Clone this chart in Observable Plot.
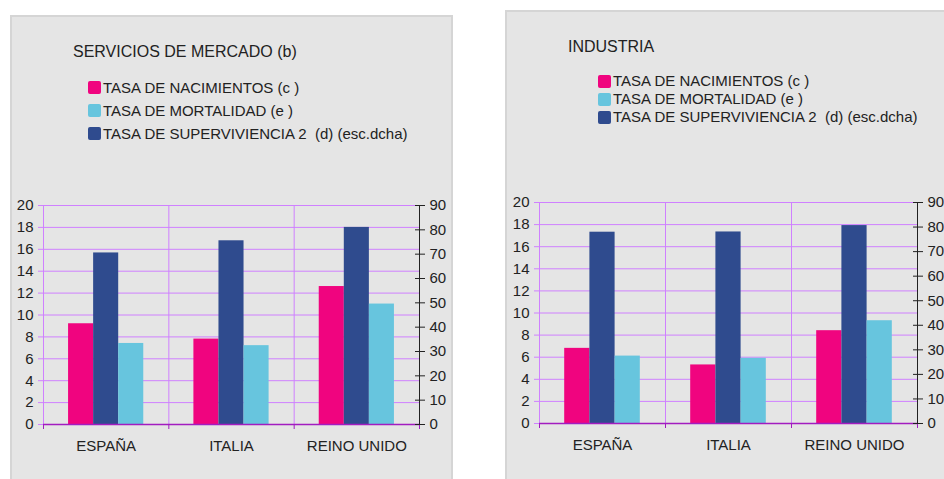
<!DOCTYPE html>
<html>
<head>
<meta charset="utf-8">
<script src="https://cdn.jsdelivr.net/npm/d3@7"></script>
<script src="https://cdn.jsdelivr.net/npm/@observablehq/plot@0.6"></script>
<style>
  html, body { margin: 0; padding: 0; background: #fff; width: 944px; height: 479px; overflow: hidden; position: relative; }
  body { font-family: "Liberation Sans", Arial, sans-serif; color: #222; }
  .panel { position: absolute; background: #e5e5e5; border: 2px solid #d5d5d5; box-sizing: border-box; }
  .title { position: absolute; font-size: 16px; white-space: nowrap; }
  .legend { position: absolute; font-size: 15px; white-space: pre; }
  .legend .row { display: flex; align-items: center; }
  .legend .sw { width: 13px; height: 13px; border-radius: 2px; margin-right: 2px; }
  .chart { position: absolute; }
</style>
</head>
<body>
<div class="panel" style="left:10px; top:15px; width:443px; height:480px;"></div>
<div class="panel" style="left:505px; top:10px; width:450px; height:480px;"></div>
<div class="title" id="t1" style="left:73px; top:43px;"></div>
<div class="legend" id="l1" style="left:88px; top:76px; line-height:23px;"></div>
<div class="title" id="t2" style="left:568px; top:38px;"></div>
<div class="legend" id="l2" style="left:598px; top:72px; line-height:18px;"></div>
<div class="chart" id="c1" style="left:0px; top:185px;"></div>
<div class="chart" id="c2" style="left:490px; top:182px;"></div>
<script>
// ---- data ----
const countries = ["ESPAÑA", "ITALIA", "REINO UNIDO"];
const seriesNames = ["TASA DE NACIMIENTOS (c )", "TASA DE MORTALIDAD (e )", "TASA DE SUPERVIVIENCIA 2  (d) (esc.dcha)"];
const seriesColors = ["#f0047f", "#67c5de", "#2f4b8e"];

const title1 = "SERVICIOS DE MERCADO (b)";
const nacimientos1 = [9.2, 7.8, 12.6];
const mortalidad1 = [7.4, 7.2, 11.0];
const supervivencia1 = [70.5, 75.5, 81.0];

const title2 = "INDUSTRIA";
const nacimientos2 = [6.8, 5.3, 8.4];
const mortalidad2 = [6.1, 5.9, 9.3];
const supervivencia2 = [77.9, 78.0, 80.6];

const leftTicks = [0, 2, 4, 6, 8, 10, 12, 14, 16, 18, 20];
const rightTicks = [0, 10, 20, 30, 40, 50, 60, 70, 80, 90];
const leftMax = 20, rightMax = 90;
const ratio = rightMax / leftMax; // right-axis values mapped onto the left scale

const grid = "#cf80ff";
const axisPurple = "#a21cc0";

function legend(el, titleEl, title) {
  document.getElementById(titleEl).textContent = title;
  const L = document.getElementById(el);
  seriesNames.forEach((name, i) => {
    const r = document.createElement("div");
    r.className = "row";
    r.innerHTML = `<span class="sw" style="background:${seriesColors[i]}"></span><span>${name}</span>`;
    L.appendChild(r);
  });
}

function chart(el, nac, mort, sup, opts) {
  // bar order within each country group: nacimientos, supervivencia, mortalidad
  const rows = [];
  countries.forEach((c, i) => {
    [[nac[i], seriesColors[0]], [sup[i] / ratio, seriesColors[2]], [mort[i], seriesColors[1]]].forEach(([v, color], j) => {
      rows.push({country: c, x1: i + (1 + j) / 5, x2: i + (2 + j) / 5, v, color});
    });
  });
  const bounds = d3.range(countries.length + 1);
  const centers = countries.map((c, i) => i + 0.5);
  const svg = Plot.plot({
    width: opts.width,
    height: 280,
    marginLeft: opts.ml,
    marginRight: opts.mr,
    marginTop: 20,
    marginBottom: opts.mb,
    style: {background: "transparent", fontFamily: "Liberation Sans, Arial, sans-serif", fontSize: "15px", color: "#222", overflow: "visible"},
    x: {domain: [0, countries.length], axis: null},
    y: {domain: [0, leftMax], label: null, axis: null},
    marks: [
      Plot.ruleY(leftTicks, {stroke: grid, strokeWidth: 1}),
      Plot.ruleX(bounds, {stroke: grid, strokeWidth: 1}),
      Plot.rectY(rows, {x1: "x1", x2: "x2", y: "v", fill: "color"}),
      Plot.ruleY([0], {stroke: axisPurple, strokeWidth: 1.5}),
      Plot.axisX(bounds, {anchor: "bottom", tickSize: 5, stroke: axisPurple, text: null, label: null}),
      Plot.axisX(centers, {anchor: "bottom", tickSize: 0, tickPadding: 16, fill: "#222", tickFormat: d => countries[Math.floor(d)], label: null}),
      Plot.axisY(leftTicks, {anchor: "left", tickSize: 5, tickPadding: 5, stroke: grid, fill: "#222", label: null}),
      Plot.ruleX([countries.length], {stroke: "#222", strokeWidth: 1}),
      Plot.axisY(rightTicks.map(d => d / ratio), {anchor: "right", tickSize: 5, tickPadding: 5, stroke: "#222", fill: "#222", tickFormat: d => Math.round(d * ratio), label: null}),
      Plot.axisY(rightTicks.map(d => d / ratio), {anchor: "right", tickSize: -5, stroke: "#222", text: null, label: null})
    ]
  });
  document.getElementById(el).appendChild(svg);
}

legend("l1", "t1", title1);
legend("l2", "t2", title2);
chart("c1", nacimientos1, mortalidad1, supervivencia1, {width: 452, ml: 43, mr: 33, mb: 41});
chart("c2", nacimientos2, mortalidad2, supervivencia2, {width: 454, ml: 49, mr: 27, mb: 39});
</script>
</body>
</html>
